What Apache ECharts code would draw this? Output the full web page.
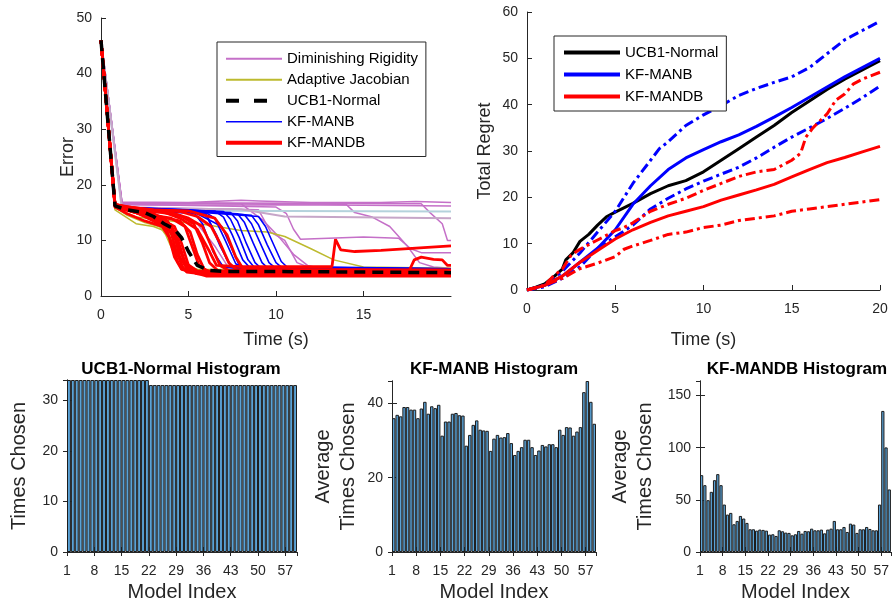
<!DOCTYPE html>
<html><head><meta charset="utf-8">
<script src="https://cdn.jsdelivr.net/npm/echarts@6/dist/echarts.min.js"></script>
<style>html,body{margin:0;padding:0;background:#fff}#c{width:892px;height:610px}</style>
</head><body><div id="c"></div>
<script>
// ---------- Top-left: Error vs Time (runs as [time, error]) ----------
const errDR = [
  [[0,46],[1.2,16.9],[5,16.8],[8,17.2],[9,17.1],[12,16.8],[16,16.8],[18,17],[20,16.8]],
  [[0,46],[1.2,16.4],[6,16.3],[10,16.4],[15,16.3],[20,16.2]],
  [[0,46],[1.2,16.6],[8,16.6],[8.5,15.4],[9.3,13.5],[10.2,10.5],[11,7.5],[11.8,5.5],[12.5,5.0],[20,4.9]],
  [[0,46],[1.2,16.5],[10,16],[10.6,14.8],[11,12],[11.4,10.2],[13,10.4],[15,10.6],[17,10.4],[17.7,8.5],[18.3,7.8],[20,7.8]],
  [[0,46],[1.2,16.7],[14,16.5],[14.5,15],[15.5,14.2],[16.5,12.5],[17.5,9],[18.2,6],[19,5.2],[20,5]],
  [[0,46],[1.2,16.8],[18.3,16.6],[18.8,15],[19.5,13],[19.8,10],[20,10]],
  [[0,46],[1.2,16],[9,15.5],[9.7,11.5],[10.5,10],[11.2,6],[12,5],[20,4.8]],
  [[0,46],[1.2,16],[4,15],[5.5,13],[6.5,9],[7.2,5.5],[8,5],[20,4.6]]
];
const errDRpale = [
  [[0,46],[1.2,15.4],[20,15.2]],
  [[0,46],[1.2,15.8],[8,15.6],[10.5,14.3],[20,14.0]]
];
const errAJ = [
  [[0,46],[0.8,16],[1.5,14.5],[2.5,13.2],[3.5,12.3],[4.0,11],[4.5,8],[5,5.2],[5.5,4.6],[20,4.5]],
  [[0,46],[0.8,15.8],[2,14.2],[4,13.5],[6,12.8],[8,11.8],[9.5,11.5],[10.5,10.7],[12,8.5],[13.3,6.5],[15,5.2],[20,5]],
  [[0,46],[0.8,15.5],[2,13],[3,12.5],[3.8,11.5],[4.3,8.5],[4.8,5.5],[5.5,4.8],[20,4.7]],
  [[0,46],[0.8,16.2],[3,14],[3.7,11],[4.5,5.3],[5.5,4.5],[20,4.5]]
];
const errUCB = [[0,46],[0.8,16.2],[1.5,15.5],[2.5,15],[3,14.3],[3.6,13],[4.2,12],[4.6,10.5],[5,8],[5.5,5.5],[6.2,4.6],[7,4.4],[10,4.4],[15,4.3],[20,4.2]];
const errMANB = [
  [[0,46],[0.8,16],[2,15.4],[4,15.3],[5.3,15],[5.8,13],[6.4,8],[7,5.2],[8,4.9],[20,4.8]],
  [[0,46],[0.8,16],[2,15.5],[5,15.2],[6,14.5],[6.6,11],[7.2,6.5],[7.6,5],[20,4.8]],
  [[0,46],[0.8,16],[3,15.4],[6,15],[6.5,14],[7.1,10],[7.7,5.8],[8.1,5],[20,4.9]],
  [[0,46],[0.8,16],[3,15.5],[6.5,15.3],[7,14.2],[7.5,11],[8.1,6.5],[8.5,5.1],[20,4.8]],
  [[0,46],[0.8,16],[4,15.6],[7,15.2],[7.4,13.8],[7.9,10.5],[8.4,6.5],[8.8,5.0],[20,4.7]],
  [[0,46],[0.8,16],[4,15.4],[7.4,15],[7.8,13.5],[8.3,9.5],[8.8,6],[9.1,5.1],[20,4.8]],
  [[0,46],[0.8,16],[5,15.3],[7.8,14.8],[8.2,13.2],[8.7,9.5],[9.2,6],[9.5,5.1],[20,4.8]],
  [[0,46],[0.8,16],[5,15.5],[8.2,14.6],[8.6,13],[9.1,9.5],[9.6,6],[9.9,5.2],[20,4.9]],
  [[0,46],[0.8,16],[5,15.4],[8.6,14.5],[9,12.8],[9.5,9.2],[10,6],[10.3,5.2],[20,4.8]],
  [[0,46],[0.8,16],[5,15.2],[9,14.3],[9.4,12.5],[9.9,9],[10.3,6.2],[10.6,5.3],[20,4.9]],
  [[0,46],[0.8,16],[4,15.3],[6,14.8],[6.2,13.5],[6.8,9],[7.4,5.5],[8,5],[20,4.8]],
  [[0,46],[0.8,16],[3,15.3],[5.5,14.8],[6.9,12.5],[7.4,9],[7.9,5.5],[8.3,5],[20,4.7]]
];
const errMANDB = [
  [[0,46],[0.8,16.5],[1.5,15.5],[2.5,14.5],[3.5,13],[4,11.5],[4.3,8],[4.7,5],[5.5,4],[8,3.9],[12,3.8],[20,3.8]],
  [[0,46],[0.8,16.3],[2,15],[3,14],[4,12.8],[4.4,10],[4.8,6],[5.2,4.3],[6,3.9],[20,4.0]],
  [[0,46],[0.8,16.5],[2,15.5],[3,14.5],[4.2,12.5],[4.6,9.5],[5,5.5],[5.5,4.2],[7,3.8],[20,3.7]],
  [[0,46],[0.8,16],[1.5,14.8],[2.5,13.5],[3.5,12.5],[3.9,10.5],[4.2,7],[4.6,4.8],[5.5,4.1],[20,4.1]],
  [[0,46],[0.8,16.4],[2,15.2],[3,14.5],[4,14],[4.8,12.5],[5.2,9],[5.6,5.5],[6.2,4.2],[20,4.2]],
  [[0,46],[0.8,16.2],[2,15.4],[3.5,15],[4.5,14.5],[5.3,13],[5.8,9.5],[6.2,6],[6.7,4.5],[20,4.3]],
  [[0,46],[0.8,16.5],[2.5,15.5],[4,15],[5,14],[5.8,12.5],[6.3,9],[6.8,5.5],[7.3,4.6],[20,4.4]],
  [[0,46],[0.8,16.2],[3,15.5],[4.5,15.2],[5.5,14.3],[6.3,12.5],[6.8,9.5],[7.3,6],[7.7,4.8],[20,4.5]],
  [[0,46],[0.8,16.3],[2,15.5],[3.5,15.2],[4.5,14],[5.5,12],[6.2,8],[6.6,5.5],[8,5.3],[10,5.3],[13.2,5.3],[13.4,10.2],[13.7,8.3],[14.5,8],[16,8.2],[18,8.6],[20,9]],
  [[0,46],[0.8,16],[2,15],[3.5,13.5],[4.3,10],[4.8,6],[5.5,4.5],[10,4.4],[17.6,4.5],[17.9,6.5],[18.3,7],[19,6.6],[19.5,6.5],[19.8,5.5],[20,5.5]],
  [[0,46],[0.8,16.4],[2,15.3],[3,14.8],[3.8,13.5],[4.2,11],[4.5,7],[5,4.5],[6,3.6],[20,3.6]],
  [[0,46],[0.8,16.3],[3,15.5],[5,15.3],[6.5,14],[7.2,11],[7.7,7],[8.1,5],[9,4.8],[20,4.7]],
  [[0,46],[0.8,16.2],[2,15],[3,13.5],[3.7,12.2],[4.1,9],[4.4,6],[4.9,4.3],[6,3.9],[20,3.9]],
  [[0,46],[0.8,16.5],[2,15.6],[3.5,14.2],[4.5,13.5],[5.1,11.5],[5.5,7.5],[5.9,4.8],[6.5,4.0],[20,4.2]]
];

// ---------- Top-right: Total regret ([time, regret]) ----------
const regUCB = [[0,0],[0.5,0.6],[1,1.3],[1.5,2.8],[2,4.5],[2.2,6.5],[2.6,8],[3,10.5],[3.5,12],[4,14],[4.5,15.8],[5,16.8],[6,18.7],[7,20.8],[8,22.5],[9,23.6],[10,25.5],[11,28],[12,30.5],[13,33],[14,35.5],[15,38.3],[16,40.8],[17,43.3],[18,45.5],[19,47.5],[20,49.5]];
const regMANB = [[0,0],[1,1],[2,3],[3,6],[4,9],[5,13],[6,18.5],[7,22.5],[8,26],[9,28.5],[10,30.3],[11,32],[12,33.5],[13,35.3],[14,37.3],[15,39.4],[16,41.6],[17,43.8],[18,46],[19,48],[20,50]];
const regMANBhi = [[0,0],[1,1],[2,4],[3,8],[4,12.5],[5,17],[6,23],[7,28],[7.5,30.5],[8,32],[9,35.5],[10,37.8],[11,39.8],[12,42],[13,43.5],[14,44.8],[15,46],[16,48],[17,51],[18,54],[19,56],[20,58]];
const regMANBlo = [[0,0],[1,0.7],[2,2.5],[3,5],[3.5,7],[4,9],[5,11.5],[6,14],[7,17.5],[8,19.8],[9,21.8],[10,23.5],[11,25],[12,26.5],[13,28.5],[14,30.8],[15,33],[16,35],[17,37],[18,39.2],[19,41.5],[20,44]];
const regMANDB = [[0,0],[1,1],[2,3],[3,6],[4,8.5],[5,11],[6,13],[7,14.6],[8,16],[9,17],[10,18],[11,19.4],[12,20.5],[13,21.6],[14,22.8],[15,24.4],[16,26],[17,27.5],[18,28.6],[19,29.8],[20,31]];
const regMANDBhi = [[0,0],[1,1],[1.5,3],[2,4.5],[2.5,7.5],[3,8.8],[4,10.8],[5,12.8],[5.5,13.5],[6,14.5],[7,17],[8,18.5],[9,19.8],[10,21.5],[11,23],[12,24.5],[13,25.5],[14,26],[15,28],[15.5,29.5],[15.8,33],[16.2,35],[17,38],[17.5,41],[18,42.3],[18.5,44.5],[19,45.5],[20,47]];
const regMANDBlo = [[0,0],[1,1],[2,2.5],[3,4.6],[4,5.8],[5,7.2],[5.5,8.8],[6,9.5],[7,10.7],[8,12],[9,12.5],[10,13.5],[11,14],[12,15],[13,15.5],[14,16],[15,17],[16,17.5],[17,18],[18,18.5],[19,19],[20,19.5]];

// ---------- Histograms (bins 1..59) ----------
const histUCB = [34,34,34,34,34,34,34,34,34,34,34,34,34,34,34,34,34,34,34,34,34,
  33,33,33,33,33,33,33,33,33,33,33,33,33,33,33,33,33,33,33,33,33,33,33,33,33,33,33,33,33,33,33,33,33,33,33,33,33,33];
const histMANB = [36.0,36.9,36.5,39.0,39.0,38.3,38.3,36.0,38.6,40.4,37.2,39.2,38.7,39.6,
  31.3,35.1,35.1,37.2,37.4,36.8,36.7,
  28.6,31.5,34.2,35.4,32.9,32.7,32.6,
  27.2,30.5,31.5,30.8,30.9,32.0,29.3,
  26.1,27.2,28.2,30.2,30.2,28.2,26.1,
  27.3,28.8,28.4,29.0,29.0,28.2,32.9,31.5,33.6,33.5,31.3,32.4,33.6,
  43.0,46.0,40.4,34.5];
const histMANDB = [73.7,64.1,49.7,57.7,68.9,74.7,64.1,45.5,35.9,37.5,26.6,29.8,34.6,32.1,27.9,
  21.8,21.8,20.5,21.5,21.2,20.5,
  16.7,17.0,15.4,20.8,19.9,18.6,18.3,16.0,17.0,20.2,17.6,20.2,19.9,22.4,20.8,20.8,21.5,17.9,21.5,22.4,29.8,21.8,21.8,24.0,19.2,27.2,26.3,18.3,21.8,21.8,24.0,22.1,20.8,20.8,
  45.5,135.3,100.3,60];
const histNames = ['UCB1-Normal Histogram','KF-MANB Histogram','KF-MANDB Histogram'];

// ---------- Chart ----------
const FONT = '"Liberation Sans", Arial, Helvetica, sans-serif';
const AX = '#262626';
const chart = echarts.init(document.getElementById('c'), null, {renderer:'canvas'});

const grids = [
  {left:101, top:18, width:350, height:278},
  {left:527, top:12, width:353, height:278},
  {left:67, top:380, width:230, height:172},
  {left:392, top:381, width:204, height:171},
  {left:700, top:381, width:196, height:171}
];

function valAxis(gi, min, max, interval, extra) {
  return Object.assign({
    type:'value', gridIndex:gi, min:min, max:max, interval:interval,
    axisLine:{show:true, lineStyle:{color:AX, width:1}},
    axisTick:{show:true, inside:true, length:5, lineStyle:{color:AX}},
    axisLabel:{color:AX, fontSize:14, fontFamily:FONT, margin:9},
    splitLine:{show:false},
    nameTextStyle:{color:AX, fontFamily:FONT, fontSize:18}
  }, extra || {});
}
function boxAxis(gi, min, max, interval, pos) {
  return {type:'value', gridIndex:gi, min:min, max:max, interval:interval, position:pos,
    axisLine:{show:true, lineStyle:{color:AX, width:1}},
    axisTick:{show:true, inside:true, length:4, lineStyle:{color:AX}},
    axisLabel:{show:false}, splitLine:{show:false}};
}
const histX = (gi) => valAxis(gi, 0, 59, 7, {
  axisLabel:{color:AX, fontSize:14, fontFamily:FONT, margin:12, showMaxLabel:false, formatter:(v)=>String(v+1)},
  name:'Model Index', nameLocation:'middle', nameGap:30, nameTextStyle:{color:AX, fontFamily:FONT, fontSize:20}
});

const xAxis = [
  valAxis(0, 0, 20, 5, {axisLabel:{color:AX, fontSize:14, fontFamily:FONT, margin:12, showMaxLabel:false},
    name:'Time (s)', nameLocation:'middle', nameGap:35}),
  valAxis(1, 0, 20, 5, {axisLabel:{color:AX, fontSize:14, fontFamily:FONT, margin:12},
    name:'Time (s)', nameLocation:'middle', nameGap:41}),
  histX(2), histX(3), histX(4),
  boxAxis(2, 0, 59, 7, 'top'), boxAxis(3, 0, 59, 7, 'top'), boxAxis(4, 0, 59, 7, 'top')
];
const yAxis = [
  valAxis(0, 0, 50, 10, {name:'Error', nameLocation:'middle', nameGap:24, nameMoveOverlap:false}),
  valAxis(1, 0, 60, 10, {name:'Total Regret', nameLocation:'middle', nameGap:33}),
  valAxis(2, 0, 34, 10, {axisLabel:{color:AX, fontSize:14, fontFamily:FONT, margin:9, showMaxLabel:false},
    name:'Times Chosen', nameLocation:'middle', nameGap:38, nameTextStyle:{color:AX, fontFamily:FONT, fontSize:20}}),
  valAxis(3, 0, 46, 20, {axisLabel:{color:AX, fontSize:14, fontFamily:FONT, margin:9, showMaxLabel:false},
    name:'Average\nTimes Chosen', nameLocation:'middle', nameGap:31, nameTextStyle:{color:AX, fontFamily:FONT, fontSize:20, lineHeight:25}}),
  valAxis(4, 0, 164, 50, {axisLabel:{color:AX, fontSize:14, fontFamily:FONT, margin:9, showMaxLabel:false},
    name:'Average\nTimes Chosen', nameLocation:'middle', nameGap:42, nameTextStyle:{color:AX, fontFamily:FONT, fontSize:20, lineHeight:25}}),
  boxAxis(2, 0, 34, 10, 'right'), boxAxis(3, 0, 46, 20, 'right'), boxAxis(4, 0, 164, 50, 'right')
];

const series = [];
function addLine(name, data, color, width, type, xi, yi) {
  series.push({type:'line', name:name, data:data, xAxisIndex:xi, yAxisIndex:yi,
    symbol:'none', showSymbol:false, smooth:false, silent:true,
    lineStyle:{color:color, width:width, type:type || 'solid'},
    itemStyle:{color:color}});
}
const C_DR = '#C570C8', C_AJ = '#BDBA2E';
errDR.forEach(r => addLine('Diminishing Rigidity', r, C_DR, 1.5, 'solid', 0, 0));
addLine('Diminishing Rigidity', errDRpale[0], '#B4D2DC', 2, 'solid', 0, 0);
addLine('Diminishing Rigidity', errDRpale[1], '#C6A6C8', 2, 'solid', 0, 0);
errAJ.forEach(r => addLine('Adaptive Jacobian', r, C_AJ, 1.5, 'solid', 0, 0));
errMANB.forEach(r => addLine('KF-MANB', r, '#0000FF', 1.6, 'solid', 0, 0));
errMANDB.forEach(r => addLine('KF-MANDB', r, '#FF0000', 2.8, 'solid', 0, 0));
addLine('UCB1-Normal', errUCB, '#000000', 3.5, [11,7], 0, 0);

const DD = [10,4,3,4];
addLine('r:UCB1-Normal', regUCB, '#000000', 3, 'solid', 1, 1);
addLine('r:KF-MANB', regMANB, '#0000FF', 3, 'solid', 1, 1);
addLine('rb:KF-MANB hi', regMANBhi, '#0000FF', 3, DD, 1, 1);
addLine('rb:KF-MANB lo', regMANBlo, '#0000FF', 3, DD, 1, 1);
addLine('r:KF-MANDB', regMANDB, '#FF0000', 3, 'solid', 1, 1);
addLine('rb:KF-MANDB hi', regMANDBhi, '#FF0000', 3, DD, 1, 1);
addLine('rb:KF-MANDB lo', regMANDBlo, '#FF0000', 3, DD, 1, 1);

[histUCB, histMANB, histMANDB].forEach((h, k) => {
  series.push({type:'bar', name:'hist'+k, xAxisIndex:2+k, yAxisIndex:2+k, silent:true,
    barWidth:'100%',
    data:h.map((v, i) => [i + 0.5, v]),
    itemStyle:{color:'#5AA2D6', borderColor:'#1c1c1c', borderWidth:1}});
});

const option = {
  animation:false,
  backgroundColor:'#fff',
  grid: grids,
  xAxis: xAxis, yAxis: yAxis,
  legend: [
    {orient:'vertical', left:217, top:42, itemWidth:56, itemHeight:14, itemGap:3.5,
     padding:[8,8,5,7], borderColor:AX, borderWidth:1, backgroundColor:'#fff',
     selectedMode:false, textStyle:{color:'#000', fontSize:15, fontFamily:FONT, lineHeight:17.5},
     itemStyle:{opacity:0},
     data:[
       {name:'Diminishing Rigidity', lineStyle:{width:2}},
       {name:'Adaptive Jacobian', lineStyle:{width:2}},
       {name:'UCB1-Normal', lineStyle:{width:4, type:[13,15]}},
       {name:'KF-MANB', lineStyle:{width:1.5}},
       {name:'KF-MANDB', lineStyle:{width:4}}
     ]},
    {orient:'vertical', left:554, top:36, itemWidth:56, itemHeight:14, itemGap:5,
     padding:[8,8,6,8], borderColor:AX, borderWidth:1, backgroundColor:'#fff',
     selectedMode:false, textStyle:{color:'#000', fontSize:15, fontFamily:FONT, lineHeight:17},
     itemStyle:{opacity:0},
     formatter:(n)=>n.replace('r:',''),
     data:[
       {name:'r:UCB1-Normal', lineStyle:{width:4}},
       {name:'r:KF-MANB', lineStyle:{width:4}},
       {name:'r:KF-MANDB', lineStyle:{width:4}}
     ]}
  ],
  graphic: [
    {type:'text', x:181, y:369, style:{text:histNames[0], align:'center', verticalAlign:'middle', fontSize:17, fontWeight:'bold', fontFamily:FONT, fill:'#000'}},
    {type:'text', x:494, y:369, style:{text:histNames[1], align:'center', verticalAlign:'middle', fontSize:17, fontWeight:'bold', fontFamily:FONT, fill:'#000'}},
    {type:'text', x:797, y:369, style:{text:histNames[2], align:'center', verticalAlign:'middle', fontSize:17, fontWeight:'bold', fontFamily:FONT, fill:'#000'}}
  ],
  series: series
};
chart.setOption(option);
</script>
</body></html>
